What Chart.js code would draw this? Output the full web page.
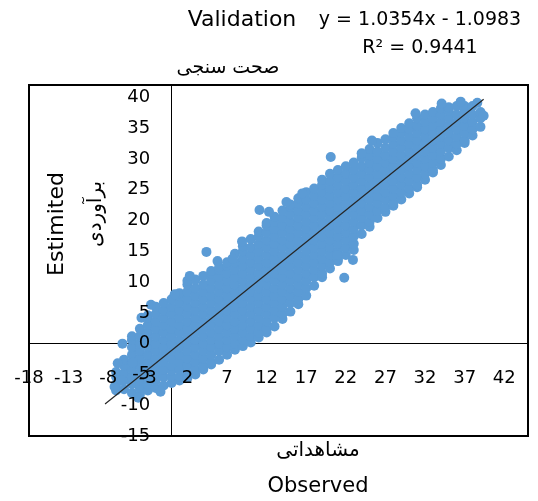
<!DOCTYPE html>
<html><head><meta charset="utf-8">
<script src="https://cdn.jsdelivr.net/npm/chart.js@4/dist/chart.umd.min.js"></script>
<style>html,body{margin:0;padding:0;background:#fff;}canvas{display:block;}</style>
</head><body>
<canvas id="c" width="538" height="501"></canvas>
<script>
// ---- tick labels ----
const xTicks = [-18, -13, -8, -3, 2, 7, 12, 17, 22, 27, 32, 37, 42];
const yTicks = [-15, -10, -5, 0, 5, 10, 15, 20, 25, 30, 35, 40];

// ---- observed (x) columns and estimated (y) values read off the cloud ----
const obsCols = [-7, -6, -5, -4, -3, -2, -1, 0, 1, 2, 3, 4, 5, 6, 7, 8, 9, 10, 11, 12, 13, 14, 15, 16, 17, 18, 19, 20, 21, 22, 23, 24, 25, 26, 27, 28, 29, 30, 31, 32, 33, 34, 35, 36, 37, 38, 39];
const estCols = [
  [-7.6, -6.6, -5.4, -4.6],
  [-7.4, -6.0, -4.8, -3.6, -2.6],
  [-8.0, -6.6, -5.4, -4.2, -3.0, -1.8, -0.6, 0.6, 1.2],
  [-8.3, -7.2, -6.0, -4.8, -3.6, -2.4, -1.2, 0, 1.2, 2.4],
  [-7.6, -6.6, -5.4, -4.2, -3.0, -1.8, -0.6, 0.6, 1.8, 3.0, 4.2, 4.6],
  [-7.2, -6.0, -4.8, -3.6, -2.4, -1.2, 0, 1.2, 2.4, 3.6, 4.8, 6.0],
  [-6.8, -5.4, -4.2, -3.0, -1.8, -0.6, 0.6, 1.8, 3.0, 4.2, 5.4, 6.6],
  [-6.4, -5.4, -4.4, -3.6, -2.4, -1.2, 0, 1.2, 2.4, 3.6, 4.8, 6.0, 7.2],
  [-6.0, -5.4, -4.2, -3.0, -1.8, -0.6, 0.6, 1.8, 3.0, 4.2, 5.4, 6.6, 7.8, 8.2],
  [-5.6, -4.8, -3.6, -2.4, -1.2, 0, 1.2, 2.4, 3.6, 4.8, 6.0, 7.2, 8.4, 9.6, 10.2],
  [-5.0, -4.2, -3.0, -1.8, -0.6, 0.6, 1.8, 3.0, 4.2, 5.4, 6.6, 7.8, 9.0, 10.4],
  [-4.2, -3.6, -2.4, -1.2, 0, 1.2, 2.4, 3.6, 4.8, 6.0, 7.2, 8.4, 9.6, 11.0],
  [-3.4, -3.0, -1.8, -0.6, 0.6, 1.8, 3.0, 4.2, 5.4, 6.6, 7.8, 9.0, 10.2, 11.4, 11.8],
  [-2.6, -1.2, 0, 1.2, 2.4, 3.6, 4.8, 6.0, 7.2, 8.4, 9.6, 10.8, 12.0, 12.4],
  [-1.8, -0.6, 0.6, 1.8, 3.0, 4.2, 5.4, 6.6, 7.8, 9.0, 10.2, 11.4, 12.6, 13.2],
  [-1.0, 0, 1.2, 2.4, 3.6, 4.8, 6.0, 7.2, 8.4, 9.6, 10.8, 12.0, 13.2, 14.6],
  [-0.4, 0.6, 1.8, 3.0, 4.2, 5.4, 6.6, 7.8, 9.0, 10.2, 11.4, 12.6, 13.8, 15.0, 15.8],
  [0.2, 1.2, 2.4, 3.6, 4.8, 6.0, 7.2, 8.4, 9.6, 10.8, 12.0, 13.2, 14.4, 15.6, 17.0],
  [1.0, 1.8, 3.0, 4.2, 5.4, 6.6, 7.8, 9.0, 10.2, 11.4, 12.6, 13.8, 15.0, 16.2, 17.4, 18.2],
  [1.8, 2.4, 3.6, 4.8, 6.0, 7.2, 8.4, 9.6, 10.8, 12.0, 13.2, 14.4, 15.6, 16.8, 18.0, 19.2, 19.6],
  [2.8, 4.2, 5.4, 6.6, 7.8, 9.0, 10.2, 11.4, 12.6, 13.8, 15.0, 16.2, 17.4, 18.6, 19.8, 20.6],
  [4.0, 4.8, 6.0, 7.2, 8.4, 9.6, 10.8, 12.0, 13.2, 14.4, 15.6, 16.8, 18.0, 19.2, 20.4, 21.6],
  [5.2, 6.6, 7.8, 9.0, 10.2, 11.4, 12.6, 13.8, 15.0, 16.2, 17.4, 18.6, 19.8, 21.0, 22.2, 22.6],
  [6.4, 7.2, 8.4, 9.6, 10.8, 12.0, 13.2, 14.4, 15.6, 16.8, 18.0, 19.2, 20.4, 21.6, 22.8, 23.6],
  [7.8, 9.0, 10.2, 11.4, 12.6, 13.8, 15.0, 16.2, 17.4, 18.6, 19.8, 21.0, 22.2, 23.4, 24.6],
  [9.4, 10.8, 12.0, 13.2, 14.4, 15.6, 16.8, 18.0, 19.2, 20.4, 21.6, 22.8, 24.0, 25.2],
  [10.8, 11.4, 12.6, 13.8, 15.0, 16.2, 17.4, 18.6, 19.8, 21.0, 22.2, 23.4, 24.6, 25.8, 26.6],
  [12.2, 13.2, 14.4, 15.6, 16.8, 18.0, 19.2, 20.4, 21.6, 22.8, 24.0, 25.2, 26.4, 27.6],
  [13.4, 13.8, 15.0, 16.2, 17.4, 18.6, 19.8, 21.0, 22.2, 23.4, 24.6, 25.8, 27.0, 28.2],
  [14.4, 15.6, 16.8, 18.0, 19.2, 20.4, 21.6, 22.8, 24.0, 25.2, 26.4, 27.6, 28.8],
  [15.2, 16.2, 17.4, 18.6, 19.8, 21.0, 22.2, 23.4, 24.6, 25.8, 27.0, 28.2, 29.4],
  [17.8, 19.2, 20.4, 21.6, 22.8, 24.0, 25.2, 26.4, 27.6, 28.8, 30.2],
  [19.0, 19.8, 21.0, 22.2, 23.4, 24.6, 25.8, 27.0, 28.2, 29.4, 30.6, 31.6],
  [20.4, 21.6, 22.8, 24.0, 25.2, 26.4, 27.6, 28.8, 30.0, 31.2, 32.6],
  [21.4, 22.2, 23.4, 24.6, 25.8, 27.0, 28.2, 29.4, 30.6, 31.8, 33.2],
  [22.4, 22.8, 24.0, 25.2, 26.4, 27.6, 28.8, 30.0, 31.2, 32.4, 33.6, 34.2],
  [23.4, 24.6, 25.8, 27.0, 28.2, 29.4, 30.6, 31.8, 33.0, 34.2, 35.0],
  [24.4, 25.2, 26.4, 27.6, 28.8, 30.0, 31.2, 32.4, 33.6, 34.8, 35.8],
  [25.4, 25.8, 27.0, 28.2, 29.4, 30.6, 31.8, 33.0, 34.2, 35.4, 36.6],
  [26.6, 27.6, 28.8, 30.0, 31.2, 32.4, 33.6, 34.8, 36.0, 37.2],
  [27.8, 28.2, 29.4, 30.6, 31.8, 33.0, 34.2, 35.4, 36.6, 37.6],
  [29.0, 30.0, 31.2, 32.4, 33.6, 34.8, 36.0, 37.2, 38.2],
  [30.4, 31.8, 33.0, 34.2, 35.4, 36.6, 37.8, 38.4],
  [31.4, 32.4, 33.6, 34.8, 36.0, 37.2, 38.6],
  [32.6, 33.0, 34.2, 35.4, 36.6, 37.8, 38.6],
  [33.8, 34.8, 36.0, 37.2, 38.6],
  [35.2, 36.6, 37.6]
];

// ---- scattered points off the main band ----
const outlierObs = [-6.2, -6.8, -7.2, -6.3, -4.2, -1.4, -4.9, 2.3, 4.4, 5.8, 11.1, 12.3, 8.9, 14.5, 20.1, 21.8, 22.9, 20.9, 39.4, 36.5, 34.1, 38.6, 30.8, 16.5, 24.0, 25.3, -3.8, -2.6, 0.4, 7.7];
const outlierEst = [0.0, -3.2, -7.0, -6.0, -8.8, -7.8, -3.1, 11.0, 14.9, 13.4, 21.7, 21.4, 16.6, 23.0, 30.3, 10.7, 13.6, 14.4, 37.0, 39.3, 39.0, 39.1, 37.4, 24.4, 30.9, 33.0, 4.2, 6.3, 8.0, 13.8];

// ---- trend line end points ----
const trendObs = [-8.4, 39.4];
const trendEst = [-9.8, 39.7];

// ---- texts ----
const titleEn = 'Validation';
const titleFa = 'صحت سنجی';
const eqLine1 = 'y = 1.0354x - 1.0983';
const eqLine2 = 'R² = 0.9441';
const yTitleEn = 'Estimited';
const yTitleFa = 'برآوردی';
const xTitleFa = 'مشاهداتی';
const xTitleEn = 'Observed';

const points = [];
obsCols.forEach((x, i) => estCols[i].forEach(y => points.push({x, y})));
outlierObs.forEach((x, i) => points.push({x, y: outlierEst[i]}));
const trend = trendObs.map((x, i) => ({x, y: trendEst[i]}));

const FONT = 'DejaVu Sans';

const decor = {
  id: 'decor',
  afterDraw(chart) {
    const {ctx, chartArea: a} = chart;
    ctx.save();
    ctx.strokeStyle = '#000';
    ctx.lineWidth = 2;
    ctx.strokeRect(a.left, a.top, a.right - a.left, a.bottom - a.top);
    ctx.fillStyle = '#000';
    ctx.textAlign = 'center';
    ctx.textBaseline = 'middle';
    ctx.font = '22px "' + FONT + '"';
    ctx.fillText(titleEn, 242, 20);
    ctx.font = '19px "' + FONT + '"';
    ctx.fillText(titleFa, 228, 68);
    ctx.font = '19px "' + FONT + '"';
    ctx.fillText(eqLine1, 420, 20);
    ctx.fillText(eqLine2, 420, 48);
    ctx.font = '20px "' + FONT + '"';
    ctx.fillText(xTitleFa, 318, 451);
    ctx.font = '21px "' + FONT + '"';
    ctx.fillText(xTitleEn, 318, 487);
    ctx.save();
    ctx.translate(57, 224);
    ctx.rotate(-Math.PI / 2);
    ctx.font = '22px "' + FONT + '"';
    ctx.fillText(yTitleEn, 0, 0);
    ctx.restore();
    ctx.save();
    ctx.translate(96, 214);
    ctx.rotate(-Math.PI / 2);
    ctx.font = '20px "' + FONT + '"';
    ctx.fillText(yTitleFa, 0, 0);
    ctx.restore();
    ctx.restore();
  }
};

const tickFont = {family: FONT, size: 18};
const noSizeX = s => { s.height = 0; s.paddingLeft = 0; s.paddingRight = 0; };
const noSizeY = s => { s.width = 0; s.paddingTop = 0; s.paddingBottom = 0; };

new Chart(document.getElementById('c'), {
  type: 'scatter',
  data: {
    datasets: [
      {
        type: 'line',
        data: trend,
        borderColor: '#262626',
        borderWidth: 1.2,
        pointRadius: 0,
        fill: false,
        tension: 0
      },
      {
        data: points,
        backgroundColor: '#5B9BD5',
        borderColor: '#5B9BD5',
        borderWidth: 0,
        pointRadius: 5,
        pointHoverRadius: 5
      }
    ]
  },
  options: {
    responsive: false,
    animation: false,
    events: [],
    layout: {padding: {left: 29, top: 85, right: 10, bottom: 65}},
    plugins: {legend: {display: false}, tooltip: {enabled: false}, title: {display: false}},
    scales: {
      x: {
        type: 'linear', min: -18, max: 45,
        position: {y: 0},
        afterFit: noSizeX,
        afterBuildTicks: s => { s.ticks = xTicks.map(v => ({value: v})); },
        grid: {display: false, drawTicks: false},
        border: {display: true, color: '#000', width: 1, z: 0},
        ticks: {z: 1, padding: 24, color: '#000', font: tickFont, autoSkip: false, maxRotation: 0}
      },
      y: {
        type: 'linear', min: -15, max: 42,
        position: {x: -2.7},
        afterFit: noSizeY,
        afterBuildTicks: s => { s.ticks = yTicks.map(v => ({value: v})); },
        grid: {display: false, drawTicks: false},
        border: {display: false},
        ticks: {z: 1, padding: 0, color: '#000', font: tickFont, autoSkip: false}
      },
      yLine: {
        type: 'linear', min: -15, max: 42,
        position: {x: 0},
        afterFit: noSizeY,
        grid: {display: false, drawTicks: false},
        border: {display: true, color: '#000', width: 1, z: 0},
        ticks: {display: false}
      }
    }
  },
  plugins: [decor]
});
</script>
</body></html>
